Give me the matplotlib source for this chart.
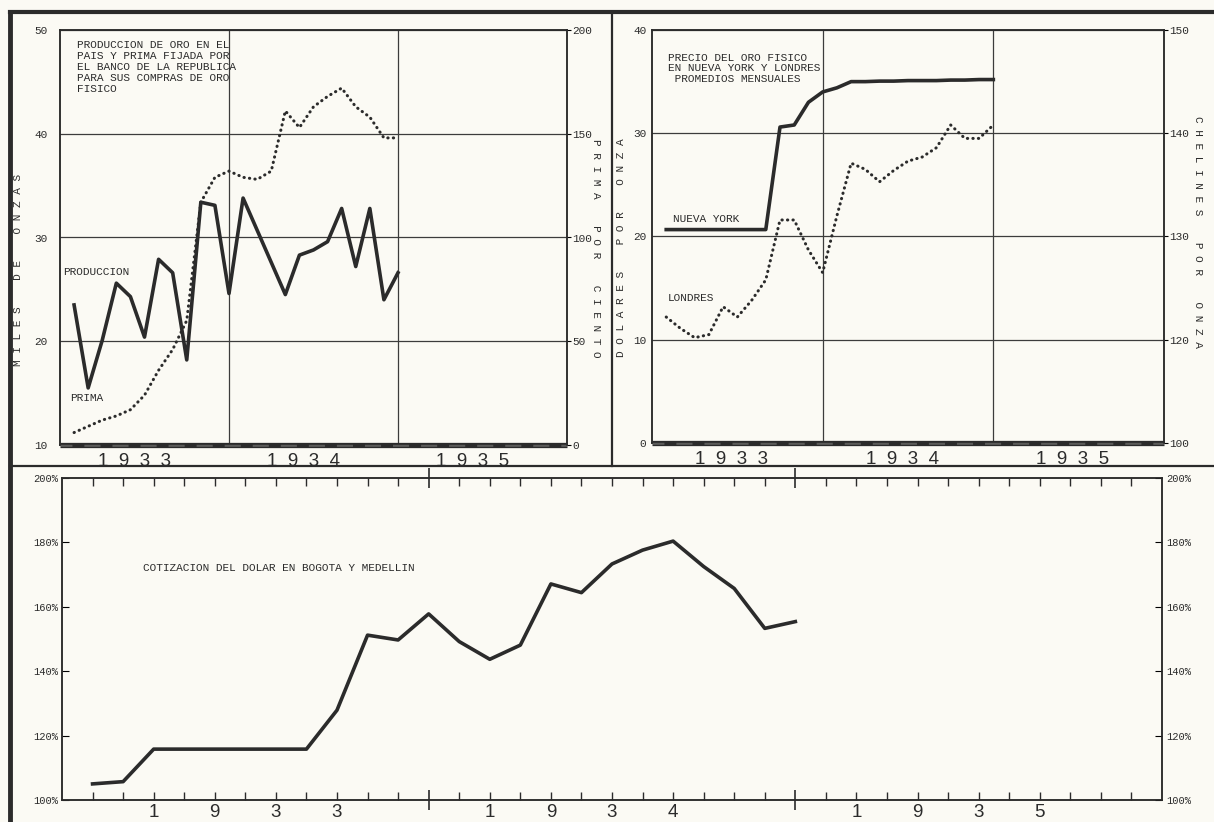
import matplotlib.pyplot as plt
from matplotlib.lines import Line2D
from matplotlib.ticker import FixedLocator

plt.rcParams['font.family'] = ['Liberation Mono', 'DejaVu Sans Mono']

INK = '#2b2b2b'
GRID = '#3c3c3c'
PAPER = '#fbfaf4'
SANS = ['Liberation Sans', 'DejaVu Sans']

# ---------------- data (x = months counted from the start of 1933) ----------------
# top left: gold production (thousands of ounces) and premium paid (per cent)
prod_month = [1, 2, 3, 4, 5, 6, 7, 8, 9, 10, 11, 12, 13, 16, 17, 18, 19, 20, 21, 22, 23, 24]
produccion = [23.5, 15.5, 20.1, 25.6, 24.3, 20.4, 27.9, 26.6, 18.2, 33.4, 33.1, 24.6,
              33.8, 24.5, 28.3, 28.8, 29.6, 32.8, 27.2, 32.8, 24.0, 26.6]
prima_month = [1, 2, 3, 4, 5, 6, 7, 8, 9, 10, 11, 12, 13, 14, 15, 16, 17, 18, 19, 20, 21, 22, 23, 24]
prima = [6, 9, 12, 14, 17, 24, 36, 46, 60, 117, 129, 132, 129, 128, 132, 161,
         153, 163, 168, 172, 163, 158, 148, 148]

# top right: price of gold, New York (dollars) and London (shillings)
ny_month = [1, 2, 3, 4, 5, 6, 7, 8, 9, 10, 11, 12, 13, 14, 15, 16, 17, 18, 19, 20, 21, 22, 23, 24]
nueva_york = [20.67, 20.67, 20.67, 20.67, 20.67, 20.67, 20.67, 20.67, 30.6, 30.8, 33.0, 34.0,
              34.4, 35.0, 35.0, 35.05, 35.05, 35.1, 35.1, 35.1, 35.15, 35.15, 35.2, 35.2]
lon_month = [1, 2, 3, 4, 5, 6, 7, 8, 9, 10, 11, 12, 13, 14, 15, 16, 17, 18, 19, 20, 21, 22, 23, 24]
londres = [122.2, 121.1, 120.2, 120.5, 123.2, 122.2, 123.8, 125.8, 131.6, 131.6, 128.7, 126.5,
           132.0, 137.1, 136.5, 135.3, 136.4, 137.3, 137.7, 138.6, 140.8, 139.5, 139.5, 140.8]

# bottom: dollar quotation in Bogota and Medellin (per cent)
cot_month = [1, 2, 3, 4, 5, 6, 7, 8, 9, 10, 11, 12, 13, 14, 15, 16, 17, 18, 19, 20, 21, 22, 23, 24]
cotizacion = [105.0, 105.7, 115.8, 115.8, 115.8, 115.8, 115.8, 115.8, 127.9, 151.2, 149.7, 157.8,
              149.2, 143.7, 148.1, 167.1, 164.4, 173.3, 177.6, 180.4, 172.5, 165.7, 153.3, 155.4]

year_labels = ['1  9  3  3', '1  9  3  4', '1  9  3  5']
onzas_ticks = [10, 20, 30, 40, 50]
prima_ticks = [0, 50, 100, 150, 200]
dolar_ticks = [0, 10, 20, 30, 40]
chelin_ticks = [110, 120, 130, 140, 150]
chelin_labels = ['100', '120', '130', '140', '150']
pct_ticks = [100, 120, 140, 160, 180, 200]
digit_month = [3, 5, 7, 9, 14, 16, 18, 20, 26, 28, 30, 32]
digits = ['1', '9', '3', '3', '1', '9', '3', '4', '1', '9', '3', '5']

W, H = 1214, 822


def fx(x):
    return x / W


def fy(y):
    return 1 - y / H


def box(x0, y0, x1, y1):
    """axes rectangle from pixel corners (top-left origin)"""
    return [fx(x0), fy(y1), fx(x1) - fx(x0), fy(y0) - fy(y1)]


def spaced(text):
    return '    '.join(' '.join(word) for word in text.split())


def style_spines(ax, lw=1.1):
    for sp in ax.spines.values():
        sp.set_linewidth(lw)
        sp.set_color(INK)


def year_band(ax):
    # the thick dashed strip along the base of the upper charts
    tr = ax.get_xaxis_transform()
    ax.plot([0, 36], [0, 0], transform=tr, color=INK, lw=3.8,
            solid_capstyle='butt', clip_on=False, zorder=6)
    ax.plot([0, 36], [0, 0], transform=tr, color=PAPER, lw=1.0,
            linestyle=(3, (11.6, 8.6)), clip_on=False, zorder=7)


def top_panel(rect, ylim, yticks):
    ax = fig.add_axes(rect)
    ax.set_facecolor(PAPER)
    ax.set_xlim(0, 36)
    ax.set_ylim(*ylim)
    ax.set_xticks([12, 24])
    ax.set_xticklabels([])
    ax.set_yticks(yticks)
    ax.tick_params(axis='x', length=0)
    ax.tick_params(axis='y', length=0, labelsize=8, labelcolor=INK)
    ax.grid(True, color=GRID, lw=0.9)
    style_spines(ax)
    year_band(ax)
    return ax


fig = plt.figure(figsize=(W / 100, H / 100), dpi=100)
fig.patch.set_facecolor(PAPER)

dotted = dict(color=INK, lw=2.2, linestyle=(0, (0.1, 1.7)), dash_capstyle='round')
solid = dict(color=INK, lw=2.6)

# ---------------- top left ----------------
ax1 = top_panel(box(60, 30, 567, 445), (10, 50), onzas_ticks)
ax1.tick_params(axis='y', pad=9)
ax1.plot(prod_month, produccion, **solid, zorder=4)
ax1b = ax1.twinx()
ax1b.set_ylim(0, 200)
ax1b.set_yticks(prima_ticks)
ax1b.tick_params(axis='y', length=3, pad=1, labelsize=8, labelcolor=INK)
style_spines(ax1b)
ax1b.plot(prima_month, prima, **dotted, zorder=4)

ax1.text(1.2, 49, 'PRODUCCION DE ORO EN EL\nPAIS Y PRIMA FIJADA POR\nEL BANCO DE LA REPUBLICA\n'
         'PARA SUS COMPRAS DE ORO\nFISICO', fontsize=8, color=INK, va='top', linespacing=1.1)
ax1.text(0.2, 26.7, 'PRODUCCION', fontsize=8, color=INK, va='center')
ax1.text(0.7, 14.5, 'PRIMA', fontsize=8, color=INK, va='center')
for i, lab in enumerate(year_labels):
    ax1.text(6 + 12 * i - 0.7, -0.04, lab, transform=ax1.get_xaxis_transform(),
             ha='center', va='center', fontsize=13.5, family=SANS, color=INK)

# ---------------- top right ----------------
ax2 = top_panel(box(652, 30, 1164, 443), (0, 40), dolar_ticks)
ax2.tick_params(axis='y', pad=4)
ax2.plot(ny_month, nueva_york, **solid, zorder=4)
ax2b = ax2.twinx()
ax2b.set_ylim(110, 150)
ax2b.set_yticks(chelin_ticks)
ax2b.set_yticklabels(chelin_labels)
ax2b.tick_params(axis='y', length=3, pad=1, labelsize=8, labelcolor=INK)
style_spines(ax2b)
ax2b.plot(lon_month, londres, **dotted, zorder=4)

ax2.text(1.15, 37.8, 'PRECIO DEL ORO FISICO\nEN NUEVA YORK Y LONDRES\n PROMEDIOS MENSUALES',
         fontsize=8, color=INK, va='top', linespacing=1.05)
ax2.text(1.5, 21.7, 'NUEVA YORK', fontsize=8, color=INK, va='center')
ax2.text(1.1, 14.0, 'LONDRES', fontsize=8, color=INK, va='center')
for i, lab in enumerate(year_labels):
    ax2.text(6 + 12 * i - 0.4, -0.04, lab, transform=ax2.get_xaxis_transform(),
             ha='center', va='center', fontsize=13.5, family=SANS, color=INK)

# ---------------- bottom ----------------
ax3 = fig.add_axes(box(62, 478, 1162, 800))
ax3.set_facecolor(PAPER)
ax3.set_xlim(0, 36)
ax3.set_ylim(100, 200)
ax3.xaxis.set_major_locator(FixedLocator([12, 24]))
ax3.xaxis.set_minor_locator(FixedLocator([m for m in range(1, 36) if m not in (12, 24)]))
ax3.set_xticklabels([])
ax3.tick_params(axis='x', which='minor', top=True, bottom=True, direction='in',
                length=6, width=1, color=INK)
ax3.tick_params(axis='x', which='major', top=True, bottom=True, direction='inout',
                length=14, width=1.2, color=INK)
ax3.set_yticks(pct_ticks)
ax3.set_yticklabels([f'{v}%' for v in pct_ticks])
ax3.tick_params(axis='y', direction='in', length=5, pad=3, labelsize=7.5, labelcolor=INK)
style_spines(ax3)
ax3.plot(cot_month, cotizacion, **solid)
ax3b = ax3.twinx()
ax3b.set_ylim(100, 200)
ax3b.set_yticks(pct_ticks)
ax3b.set_yticklabels([f'{v}%' for v in pct_ticks])
ax3b.tick_params(axis='y', direction='in', length=5, pad=3, labelsize=7.5, labelcolor=INK)
style_spines(ax3b)

ax3.text(2.65, 172, 'COTIZACION DEL DOLAR EN BOGOTA Y MEDELLIN', fontsize=8, color=INK, va='center')
for m, d in zip(digit_month, digits):
    ax3.text(m, -0.038, d, transform=ax3.get_xaxis_transform(), ha='center', va='center',
             fontsize=13.5, family=SANS, color=INK)

# ---------------- axis titles ----------------
fig.text(fx(18), fy(270), spaced('MILES DE ONZAS'), rotation=90, ha='center', va='center',
         fontsize=8, color=INK)
fig.text(fx(596), fy(248), spaced('PRIMA POR CIENTO'), rotation=-90, ha='center', va='center',
         fontsize=8, color=INK)
fig.text(fx(621), fy(248), spaced('DOLARES POR ONZA'), rotation=90, ha='center', va='center',
         fontsize=8, color=INK)
fig.text(fx(1198), fy(232), spaced('CHELINES POR ONZA'), rotation=-90, ha='center', va='center',
         fontsize=8, color=INK)

# ---------------- frame ----------------
frame = [((10, 10), (12, 822), 3.5), ((10, 1214), (12, 12), 3.0),
         ((10, 1214), (466, 466), 1.6), ((612, 612), (12, 466), 1.6)]
for xs, ys, lw in frame:
    fig.add_artist(Line2D([fx(x) for x in xs], [fy(y) for y in ys], lw=lw, color=INK))

fig.savefig('out.png', dpi=100, facecolor=PAPER)
